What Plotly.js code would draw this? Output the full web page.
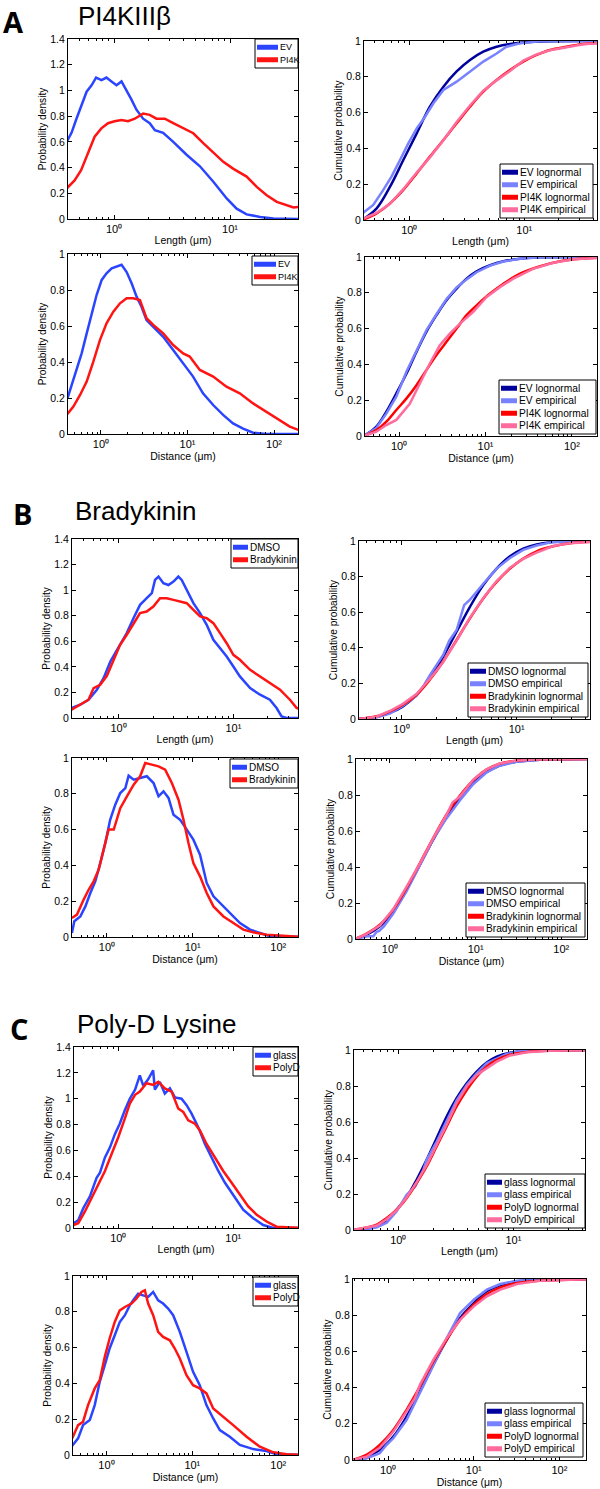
<!DOCTYPE html>
<html><head><meta charset="utf-8">
<script src="https://cdn.plot.ly/plotly-3.0.1.min.js"></script>
<style>html,body{margin:0;padding:0;background:#fff}</style>
</head><body><div id="chart" style="width:600px;height:1489px"></div>
<script>
// ---------- tick labels ----------
const decadeVals = [1, 10, 100];
const decadeText = ['10⁰', '10¹', '10²'];
const panelLetters = ['A', 'B', 'C'];
const panelTitles = ['PI4KIIIβ', 'Bradykinin', 'Poly-D Lysine'];

// ---------- A: PI4KIIIβ ----------
const aLenEvX = [0.39,0.43,0.47,0.52,0.58,0.64,0.70,0.78,0.86,0.95,1.05,1.16,1.28,1.41,1.56,1.78,2.03,2.25,2.65,3.24,4.22,5.5,7.18,9.36,11.4,13.9,18.2,23.7,40];
const aLenEvY = [0.60,0.67,0.77,0.875,0.99,1.04,1.10,1.08,1.10,1.07,1.04,1.07,1.005,0.93,0.85,0.78,0.745,0.69,0.67,0.60,0.50,0.41,0.29,0.16,0.08,0.036,0.016,0.003,0];
const aLenPiX = [0.39,0.457,0.52,0.596,0.68,0.777,0.887,1.01,1.16,1.32,1.51,1.78,2.03,2.32,2.74,3.24,3.95,4.82,5.88,7.18,8.75,10.7,13.9,17,20.7,25.3,30.9,35.3,40];
const aLenPiY = [0.237,0.30,0.38,0.51,0.64,0.705,0.745,0.76,0.77,0.76,0.78,0.82,0.81,0.78,0.78,0.745,0.705,0.667,0.59,0.52,0.445,0.39,0.33,0.25,0.185,0.133,0.107,0.09,0.094];

const aLenCdfEvLnX = [0.39,0.52,0.68,0.887,1.16,1.51,1.98,2.58,3.37,4.4,5.74,7.5,12,50];
const aLenCdfEvLnY = [0,0.065,0.186,0.335,0.484,0.633,0.745,0.83,0.894,0.94,0.968,0.983,0.996,1];
const aLenCdfEvEmX = [0.39,0.486,0.594,0.70,0.83,0.98,1.16,1.37,1.62,1.98,2.58,3.37,4.4,5.74,7.0,9.17,13.7,50];
const aLenCdfEvEmY = [0.037,0.084,0.168,0.242,0.335,0.428,0.512,0.577,0.652,0.726,0.773,0.83,0.885,0.93,0.968,0.987,0.998,1];
const aLenCdfPiLnX = [0.39,0.52,0.68,0.887,1.16,1.51,1.98,2.58,3.37,4.4,5.74,7.5,9.8,12.8,16.7,23.3,32.6,50];
const aLenCdfPiLnY = [0,0.037,0.093,0.168,0.26,0.354,0.447,0.54,0.633,0.717,0.782,0.838,0.885,0.922,0.95,0.968,0.983,0.992];
const aLenCdfPiEmX = [0.39,0.52,0.68,0.887,1.16,1.51,1.98,2.58,3.37,4.4,5.74,7.5,9.8,12.8,16.7,23.3,32.6,50];
const aLenCdfPiEmY = [0.005,0.04,0.09,0.172,0.265,0.35,0.445,0.548,0.64,0.722,0.78,0.832,0.89,0.925,0.948,0.966,0.982,0.99];

const aDisEvX = [0.41,0.459,0.524,0.598,0.684,0.78,0.89,1.02,1.16,1.33,1.52,1.73,1.98,2.26,2.58,2.94,3.36,4.02,5.24,6.83,8.9,11.6,15.1,19.8,25.8,33.6,43.9,57.3,81.6,200];
const aDisEvY = [0.198,0.272,0.356,0.448,0.559,0.67,0.772,0.856,0.893,0.92,0.93,0.94,0.90,0.837,0.763,0.707,0.633,0.596,0.54,0.467,0.393,0.319,0.226,0.161,0.106,0.059,0.03,0.007,0,0];
const aDisPiX = [0.41,0.48,0.573,0.684,0.816,0.973,1.16,1.39,1.66,1.98,2.36,2.82,3.36,4.02,5.24,6.83,8.9,10.6,13.9,19.8,28.2,40.2,57.3,81.6,116,152,200];
const aDisPiY = [0.111,0.152,0.217,0.291,0.402,0.522,0.615,0.68,0.726,0.754,0.754,0.744,0.643,0.606,0.559,0.494,0.448,0.43,0.356,0.319,0.263,0.226,0.17,0.124,0.078,0.041,0.019];

const aDisCdfEvLnX = [0.39,0.546,0.713,0.93,1.22,1.59,2.07,2.71,3.54,4.63,6.04,7.9,11.3,16.1,25.1,42.9,250];
const aDisCdfEvLnY = [0,0.052,0.136,0.238,0.349,0.47,0.582,0.675,0.758,0.823,0.879,0.92,0.954,0.976,0.99,0.998,1];
const aDisCdfEvEmX = [0.39,0.546,0.713,0.93,1.22,1.59,2.07,2.71,3.54,4.63,6.04,7.9,11.3,16.1,25.1,42.9,250];
const aDisCdfEvEmY = [0,0.045,0.125,0.22,0.36,0.48,0.59,0.68,0.765,0.83,0.875,0.915,0.952,0.975,0.99,0.998,1];
const aDisCdfPiLnX = [0.39,0.546,0.713,0.93,1.22,1.59,2.07,2.71,3.54,4.63,6.04,7.9,11.3,16.1,25.1,42.9,73,125,250];
const aDisCdfPiLnY = [0,0.033,0.08,0.145,0.21,0.284,0.368,0.452,0.526,0.60,0.675,0.73,0.796,0.851,0.907,0.948,0.976,0.99,0.997];
const aDisCdfPiEmX = [0.39,0.546,0.713,0.93,1.33,1.74,2.27,2.96,3.87,5.06,7.22,10.3,14.8,21,35.9,61.2,104,250];
const aDisCdfPiEmY = [0,0.024,0.061,0.09,0.18,0.294,0.405,0.507,0.572,0.628,0.693,0.777,0.833,0.879,0.935,0.968,0.987,0.997];

// ---------- B: Bradykinin ----------
const bLenDmX = [0.39,0.464,0.548,0.648,0.741,0.847,0.935,1.03,1.18,1.35,1.54,1.76,1.95,2.08,2.23,2.46,2.72,3.01,3.32,3.55,3.93,4.49,5.13,5.86,6.7,7.66,8.75,10,11.4,14,17.1,20.8,23.8,26.3,29.1,40];
const bLenDmY = [0.078,0.104,0.143,0.221,0.312,0.44,0.507,0.572,0.664,0.78,0.885,0.937,0.976,1.08,1.106,1.054,1.04,1.067,1.106,1.08,1.0,0.898,0.82,0.729,0.611,0.546,0.481,0.403,0.325,0.234,0.182,0.143,0.078,0.013,0,0];
const bLenBrX = [0.39,0.464,0.548,0.607,0.693,0.792,0.905,1.03,1.18,1.35,1.54,1.76,2.01,2.3,2.63,3.01,3.44,3.93,4.49,5.13,5.86,6.7,7.66,8.75,10,11.4,14,17.1,20.8,25.5,31.1,35.6,40];
const bLenBrY = [0.065,0.104,0.143,0.234,0.26,0.33,0.45,0.57,0.651,0.742,0.82,0.833,0.872,0.937,0.937,0.924,0.911,0.898,0.846,0.794,0.781,0.742,0.664,0.585,0.494,0.455,0.377,0.325,0.273,0.221,0.143,0.078,0.073];

const bLenCdfDmLnX = [0.42,0.607,0.792,1.03,1.35,1.76,2.3,3.01,3.93,5.13,6.7,8.75,11.4,14.9,20.8,50];
const bLenCdfDmLnY = [0,0.011,0.034,0.071,0.136,0.23,0.35,0.49,0.63,0.752,0.845,0.914,0.957,0.981,0.994,1];
const bLenCdfDmEmX = [0.42,0.607,0.792,1.03,1.35,1.55,1.76,2.3,2.6,3.01,3.5,3.93,5.13,6.7,8.75,11.4,14.9,20.8,50];
const bLenCdfDmEmY = [0,0.01,0.03,0.075,0.13,0.185,0.245,0.36,0.44,0.5,0.64,0.67,0.76,0.845,0.905,0.95,0.975,0.995,1];
const bLenCdfBrLnX = [0.42,0.607,0.792,1.03,1.35,1.76,2.3,3.01,3.93,5.13,6.7,8.75,11.4,14.9,20.8,29.1,50];
const bLenCdfBrLnY = [0,0.015,0.043,0.08,0.136,0.22,0.323,0.444,0.565,0.677,0.77,0.845,0.901,0.942,0.97,0.987,0.997];
const bLenCdfBrEmX = [0.42,0.607,0.792,1.03,1.35,1.76,2.3,3.01,3.93,5.13,6.7,8.75,11.4,14.9,20.8,29.1,50];
const bLenCdfBrEmY = [0,0.013,0.045,0.085,0.14,0.225,0.32,0.44,0.57,0.68,0.775,0.85,0.9,0.935,0.972,0.988,0.997];

const bDisDmX = [0.39,0.416,0.489,0.56,0.64,0.731,0.836,0.957,1.09,1.25,1.43,1.64,1.79,2.05,2.44,2.92,3.5,4.0,4.57,5.23,5.98,7.15,8.55,10.2,12.2,14.6,17.5,20.9,27.3,35.7,46.8,61.1,80,200];
const bDisDmY = [0.022,0.088,0.115,0.171,0.246,0.311,0.413,0.525,0.655,0.739,0.804,0.832,0.901,0.879,0.888,0.898,0.86,0.786,0.814,0.777,0.683,0.655,0.6,0.544,0.46,0.302,0.227,0.19,0.134,0.078,0.041,0.022,0.004,0];
const bDisBrX = [0.39,0.447,0.535,0.611,0.70,0.80,0.914,1.045,1.2,1.43,1.71,2.05,2.44,2.8,3.34,4.0,4.78,5.72,6.84,7.82,8.94,10.2,12.2,14.6,17.5,22.9,29.9,39.1,51.1,73.1,114,200];
const bDisBrY = [0.106,0.125,0.209,0.264,0.311,0.376,0.488,0.6,0.6,0.72,0.786,0.851,0.898,0.972,0.963,0.953,0.935,0.86,0.767,0.655,0.525,0.413,0.339,0.246,0.171,0.115,0.078,0.041,0.026,0.013,0.007,0];

const bDisCdfDmLnX = [0.39,0.535,0.764,1.09,1.56,2.24,3.2,4.57,6.54,9.36,13.4,19.1,29.9,56,250];
const bDisCdfDmLnY = [0,0.024,0.07,0.154,0.274,0.413,0.552,0.678,0.783,0.867,0.926,0.963,0.985,0.996,1];
const bDisCdfDmEmX = [0.39,0.55,0.64,0.70,0.75,0.85,1.09,1.56,2.24,3.2,4.57,6.54,9.36,13.4,19.1,29.9,56,250];
const bDisCdfDmEmY = [0,0.015,0.015,0.04,0.045,0.07,0.14,0.265,0.41,0.555,0.67,0.77,0.86,0.925,0.963,0.985,0.996,1];
const bDisCdfBrLnX = [0.39,0.535,0.764,1.09,1.56,2.24,3.2,4.57,6.54,9.36,13.4,19.1,29.9,56,250];
const bDisCdfBrLnY = [0,0.03,0.08,0.163,0.283,0.422,0.561,0.691,0.796,0.881,0.941,0.974,0.991,0.998,1];
const bDisCdfBrEmX = [0.39,0.535,0.764,1.09,1.56,2.24,3.2,4.57,5.4,6.54,9.36,13.4,19.1,29.9,56,250];
const bDisCdfBrEmY = [0,0.028,0.075,0.165,0.29,0.42,0.56,0.69,0.76,0.79,0.885,0.942,0.975,0.991,0.998,1];

// ---------- C: Poly-D Lysine ----------
const cLenGlX = [0.40,0.449,0.497,0.567,0.648,0.693,0.766,0.847,0.936,1.03,1.14,1.26,1.4,1.54,1.65,1.82,2.01,2.08,2.3,2.54,2.81,3.11,3.55,3.93,4.34,4.96,5.67,6.48,7.41,8.47,10,12.2,14.9,18.2,22.3,40];
const cLenGlY = [0.03,0.06,0.154,0.245,0.389,0.428,0.546,0.624,0.728,0.807,0.911,1.0,1.07,1.18,1.1,1.15,1.22,1.07,1.13,1.04,1.08,1.01,1.0,0.95,0.885,0.78,0.65,0.546,0.441,0.35,0.258,0.141,0.076,0.023,0,0];
const cLenPdX = [0.40,0.449,0.513,0.586,0.67,0.766,0.875,1.0,1.14,1.26,1.4,1.54,1.76,2.01,2.23,2.54,2.91,3.32,3.67,4.06,4.64,5.13,5.86,6.93,8.18,9.68,11.4,13.5,16,19.5,23.8,40];
const cLenPdY = [0.02,0.037,0.128,0.232,0.337,0.441,0.572,0.702,0.846,0.963,1.03,1.055,1.12,1.107,1.13,1.08,1.055,0.924,0.898,0.833,0.807,0.755,0.65,0.546,0.441,0.35,0.258,0.167,0.102,0.05,0.01,0];

const cLenCdfGlLnX = [0.40,0.648,0.792,0.967,1.18,1.44,1.76,2.15,2.63,3.21,3.93,4.8,5.86,7.16,9.36,13.1,50];
const cLenCdfGlLnY = [0,0.02,0.057,0.113,0.183,0.279,0.39,0.51,0.63,0.732,0.815,0.88,0.93,0.963,0.985,0.996,1];
const cLenCdfGlEmX = [0.5,0.648,0.792,0.967,1.18,1.40,1.65,1.76,2.15,2.63,3.21,3.93,4.8,5.86,7.16,8.75,11.4,50];
const cLenCdfGlEmY = [0,0.015,0.04,0.104,0.196,0.242,0.335,0.39,0.49,0.61,0.72,0.806,0.87,0.926,0.954,0.978,0.994,1];
const cLenCdfPdLnX = [0.40,0.648,0.792,0.967,1.18,1.44,1.76,2.15,2.63,3.21,3.93,4.8,5.86,7.16,9.36,13.1,20.8,50];
const cLenCdfPdLnY = [0,0.03,0.067,0.113,0.177,0.26,0.353,0.464,0.575,0.686,0.778,0.852,0.908,0.945,0.974,0.989,0.996,1];
const cLenCdfPdEmX = [0.40,0.648,0.792,0.967,1.18,1.44,1.76,2.15,2.63,3.21,3.93,4.8,5.86,7.16,9.36,13.1,20.8,50];
const cLenCdfPdEmY = [0,0.025,0.06,0.11,0.18,0.265,0.36,0.47,0.585,0.705,0.797,0.861,0.898,0.935,0.97,0.988,0.996,1];

const cDisGlX = [0.40,0.468,0.535,0.64,0.731,0.836,0.957,1.09,1.25,1.43,1.64,1.87,2.05,2.34,2.67,3.06,3.5,4.0,4.57,5.23,5.98,7.15,8.55,10.2,12.2,14.6,17.5,20.9,27.3,35.7,51.1,73.1,95.6,150,200];
const cDisGlY = [0.052,0.093,0.167,0.195,0.279,0.409,0.502,0.595,0.669,0.743,0.781,0.836,0.864,0.901,0.892,0.883,0.911,0.864,0.846,0.818,0.781,0.688,0.576,0.465,0.39,0.279,0.204,0.139,0.102,0.056,0.033,0.022,0.004,0.004,0];
const cDisPdX = [0.40,0.468,0.535,0.611,0.731,0.836,0.957,1.09,1.25,1.43,1.64,1.96,2.24,2.56,2.8,3.06,3.5,4.0,4.57,5.47,6.25,7.15,8.55,10.2,12.2,14.6,17.5,21.9,29.9,42.8,61.1,87.5,125,200];
const cDisPdY = [0.093,0.167,0.186,0.279,0.372,0.418,0.548,0.651,0.743,0.808,0.827,0.846,0.874,0.911,0.92,0.846,0.781,0.688,0.66,0.641,0.595,0.539,0.446,0.39,0.372,0.344,0.26,0.223,0.167,0.102,0.046,0.015,0.004,0];

const cDisCdfGlLnX = [0.38,0.557,0.798,1.15,1.64,2.35,3.37,4.83,6.92,10,14.2,20.4,31.9,59.9,250];
const cDisCdfGlLnY = [0,0.018,0.055,0.129,0.24,0.378,0.526,0.664,0.784,0.867,0.932,0.965,0.987,0.996,1];
const cDisCdfGlEmX = [0.5,0.557,0.798,0.955,1.15,1.64,2.35,3.37,4.83,6.92,10,14.2,20.4,31.9,250];
const cDisCdfGlEmY = [0,0.009,0.037,0.083,0.12,0.221,0.369,0.526,0.673,0.812,0.886,0.941,0.972,0.991,1];
const cDisCdfPdLnX = [0.38,0.557,0.798,1.15,1.64,2.35,3.37,4.83,6.92,10,14.2,20.4,31.9,59.9,122,250];
const cDisCdfPdLnY = [0,0.028,0.083,0.166,0.277,0.406,0.544,0.664,0.775,0.858,0.917,0.954,0.978,0.991,0.996,1];
const cDisCdfPdEmX = [0.38,0.557,0.798,1.15,1.64,2.05,2.35,3.37,4.83,6.92,10,14.2,20.4,31.9,59.9,250];
const cDisCdfPdEmY = [0,0.018,0.068,0.157,0.268,0.341,0.415,0.553,0.673,0.775,0.849,0.904,0.941,0.972,0.991,1];

// ---------- styling ----------
const W = 600, H = 1489;
const FONT = 'Liberation Sans, Arial, Helvetica, sans-serif';
const C_BLUE = '#2b45ff', C_RED = '#ff1414', C_DARK = '#00009c', C_LIGHT = '#7882ff', C_RLN = '#ff0000', C_PINK = '#ff6b9d';
const LW = 2.5;
const LEG_LINE = 12.5, LEG_PAD = 2;

const minorVals = [];
[0.1, 1, 10, 100].forEach(d => { for (let k = 2; k <= 9; k++) minorVals.push(k * d); });

// leg: [left px, right px, edge y px, 'top'|'bottom', swatch width px, font size]
const panels = [
  {px:[68,298], py:[39,219], xr:[-0.397,1.586], ymax:1.4, xt:'Length (μm)', yt:'Probability density', leg:[255,298,39,'top',21,9],
   s:[[aLenEvX,aLenEvY,'EV',C_BLUE],[aLenPiX,aLenPiY,'PI4K',C_RED]]},
  {px:[364,597], py:[41,220], xr:[-0.394,1.632], ymax:1, xt:'Length (μm)', yt:'Cumulative probability', leg:[500,593,218,'bottom',16,10.2],
   s:[[aLenCdfEvLnX,aLenCdfEvLnY,'EV lognormal',C_DARK,1],[aLenCdfEvEmX,aLenCdfEvEmY,'EV empirical',C_LIGHT],
      [aLenCdfPiLnX,aLenCdfPiLnY,'PI4K lognormal',C_RLN,1],[aLenCdfPiEmX,aLenCdfPiEmY,'PI4K empirical',C_PINK]]},
  {px:[68,298], py:[254,434], xr:[-0.381,2.277], ymax:1, xt:'Distance (μm)', yt:'Probability density', leg:[252,298,256,'top',22,9],
   s:[[aDisEvX,aDisEvY,'EV',C_BLUE],[aDisPiX,aDisPiY,'PI4K',C_RED]]},
  {px:[365,597], py:[257,436], xr:[-0.394,2.29], ymax:1, xt:'Distance (μm)', yt:'Cumulative probability', leg:[499,596,434,'bottom',16,10.2],
   s:[[aDisCdfEvLnX,aDisCdfEvLnY,'EV lognormal',C_DARK,1],[aDisCdfEvEmX,aDisCdfEvEmY,'EV empirical',C_LIGHT],
      [aDisCdfPiLnX,aDisCdfPiLnY,'PI4K lognormal',C_RLN,1],[aDisCdfPiEmX,aDisCdfPiEmY,'PI4K empirical',C_PINK]]},
  {px:[72,298], py:[539,718], xr:[-0.405,1.563], ymax:1.4, xt:'Length (μm)', yt:'Probability density', leg:[231,298,539,'top',15,10],
   s:[[bLenDmX,bLenDmY,'DMSO',C_BLUE],[bLenBrX,bLenBrY,'Bradykinin',C_RED]]},
  {px:[359,590], py:[541,719], xr:[-0.369,1.637], ymax:1, xt:'Length (μm)', yt:'Cumulative probability', leg:[468,588,717,'bottom',16,10.2],
   s:[[bLenCdfDmLnX,bLenCdfDmLnY,'DMSO lognormal',C_DARK,1],[bLenCdfDmEmX,bLenCdfDmEmY,'DMSO empirical',C_LIGHT],
      [bLenCdfBrLnX,bLenCdfBrLnY,'Bradykinin lognormal',C_RLN,1],[bLenCdfBrEmX,bLenCdfBrEmY,'Bradykinin empirical',C_PINK]]},
  {px:[72,298], py:[758,937], xr:[-0.408,2.23], ymax:1, xt:'Distance (μm)', yt:'Probability density', leg:[230,298,759,'top',15,10],
   s:[[bDisDmX,bDisDmY,'DMSO',C_BLUE],[bDisBrX,bDisBrY,'Bradykinin',C_RED]]},
  {px:[356,587], py:[759,939], xr:[-0.396,2.3], ymax:1, xt:'Distance (μm)', yt:'Cumulative probability', leg:[466,585,937,'bottom',16,10.2],
   s:[[bDisCdfDmLnX,bDisCdfDmLnY,'DMSO lognormal',C_DARK,1],[bDisCdfDmEmX,bDisCdfDmEmY,'DMSO empirical',C_LIGHT],
      [bDisCdfBrLnX,bDisCdfBrLnY,'Bradykinin lognormal',C_RLN,1],[bDisCdfBrEmX,bDisCdfBrEmY,'Bradykinin empirical',C_PINK]]},
  {px:[74,298], py:[1047,1228], xr:[-0.385,1.563], ymax:1.4, xt:'Length (μm)', yt:'Probability density', leg:[253,298,1047,'top',16,10],
   s:[[cLenGlX,cLenGlY,'glass',C_BLUE],[cLenPdX,cLenPdY,'PolyD',C_RED]]},
  {px:[354,585], py:[1050,1230], xr:[-0.386,1.623], ymax:1, xt:'Length (μm)', yt:'Cumulative probability', leg:[485,585,1228,'bottom',15,10.2],
   s:[[cLenCdfGlLnX,cLenCdfGlLnY,'glass lognormal',C_DARK,1],[cLenCdfGlEmX,cLenCdfGlEmY,'glass empirical',C_LIGHT],
      [cLenCdfPdLnX,cLenCdfPdLnY,'PolyD lognormal',C_RLN,1],[cLenCdfPdEmX,cLenCdfPdEmY,'PolyD empirical',C_PINK]]},
  {px:[73,298], py:[1276,1455], xr:[-0.389,2.23], ymax:1, xt:'Distance (μm)', yt:'Probability density', leg:[253,298,1277,'top',16,10],
   s:[[cDisGlX,cDisGlY,'glass',C_BLUE],[cDisPdX,cDisPdY,'PolyD',C_RED]]},
  {px:[353,586], py:[1279,1460], xr:[-0.41,2.31], ymax:1, xt:'Distance (μm)', yt:'Cumulative probability', leg:[485,583,1457,'bottom',15,10.2],
   s:[[cDisCdfGlLnX,cDisCdfGlLnY,'glass lognormal',C_DARK,1],[cDisCdfGlEmX,cDisCdfGlEmY,'glass empirical',C_LIGHT],
      [cDisCdfPdLnX,cDisCdfPdLnY,'PolyD lognormal',C_RLN,1],[cDisCdfPdEmX,cDisCdfPdEmY,'PolyD empirical',C_PINK]]}
];

const data = [];
const layout = {
  width: W, height: H,
  margin: {l:0, r:0, t:0, b:0},
  paper_bgcolor: '#fff', plot_bgcolor: '#fff',
  font: {family: FONT, size: 10.5, color: '#000'},
  showlegend: false,
  annotations: [],
  shapes: []
};

panels.forEach((p, i) => {
  const n = i + 1;
  const sfx = n === 1 ? '' : String(n);
  const xa = 'xaxis' + sfx, ya = 'yaxis' + sfx;
  layout[xa] = {
    domain: [p.px[0] / W, p.px[1] / W], anchor: 'y' + sfx, type: 'log', range: p.xr,
    tickmode: 'array', tickvals: decadeVals, ticktext: decadeText,
    ticks: 'inside', ticklen: 4, tickwidth: 1, tickcolor: '#000',
    showline: true, linecolor: '#000', linewidth: 1, mirror: 'ticks',
    showgrid: false, zeroline: false, automargin: false,
    tickfont: {family: FONT, size: 11, color: '#000'},
    minor: {tickmode: 'array', tickvals: minorVals, ticks: 'inside', ticklen: 2, tickcolor: '#000', showgrid: false},
    title: {text: p.xt, font: {family: FONT, size: 10.5, color: '#000'}, standoff: 2}
  };
  layout[ya] = {
    domain: [1 - p.py[1] / H, 1 - p.py[0] / H], anchor: 'x' + sfx, range: [0, p.ymax],
    tick0: 0, dtick: 0.2,
    ticks: 'inside', ticklen: 4, tickwidth: 1, tickcolor: '#000',
    showline: true, linecolor: '#000', linewidth: 1, mirror: 'ticks',
    showgrid: false, zeroline: false, automargin: false,
    tickfont: {family: FONT, size: 10.5, color: '#000'},
    title: {text: p.yt, font: {family: FONT, size: 10.2, color: '#000'}, standoff: 1}
  };
  p.s.forEach(s => {
    data.push({
      type: 'scatter', mode: 'lines', x: s[0], y: s[1], name: s[2],
      xaxis: 'x' + sfx, yaxis: 'y' + sfx, showlegend: false,
      line: {color: s[3], width: LW, shape: s[4] ? 'spline' : 'linear', smoothing: 1},
      hoverinfo: 'skip'
    });
  });
  // legend box built from the same series names/colours
  const [lx, rx, ey, side, sw, fs] = p.leg;
  const nItems = p.s.length;
  const hBox = nItems * LEG_LINE + 2 * LEG_PAD;
  const top = side === 'top' ? ey : ey - hBox;
  layout.shapes.push({
    type: 'rect', xref: 'paper', yref: 'paper', layer: 'above',
    x0: lx / W, x1: rx / W, y0: 1 - (top + hBox) / H, y1: 1 - top / H,
    fillcolor: '#fff', line: {color: '#000', width: 1}
  });
  p.s.forEach((s, k) => {
    const yc = top + LEG_PAD + LEG_LINE * (k + 0.5);
    layout.shapes.push({
      type: 'line', xref: 'paper', yref: 'paper', layer: 'above',
      x0: (lx + 2) / W, x1: (lx + 2 + sw) / W, y0: 1 - yc / H, y1: 1 - yc / H,
      line: {color: s[3], width: 5}
    });
    layout.annotations.push({
      text: s[2], xref: 'paper', yref: 'paper', x: (lx + 2 + sw) / W, y: 1 - yc / H,
      xanchor: 'left', yanchor: 'middle', showarrow: false,
      font: {family: FONT, size: fs, color: '#000'}
    });
  });
});

// panel letters and titles
const letterPos = [[1, 22], [11, 513], [8, 1028]];
const titlePos = [[76, 16], [73, 511], [75, 1024]];
panelLetters.forEach((t, i) => {
  layout.annotations.push({
    text: t, xref: 'paper', yref: 'paper', x: letterPos[i][0] / W, y: 1 - letterPos[i][1] / H,
    xanchor: 'left', yanchor: 'middle', showarrow: false,
    font: {family: 'Open Sans, DejaVu Sans, sans-serif', size: 29, weight: 700, color: '#000'}
  });
  layout.annotations.push({
    text: panelTitles[i], xref: 'paper', yref: 'paper', x: titlePos[i][0] / W, y: 1 - titlePos[i][1] / H,
    xanchor: 'left', yanchor: 'middle', showarrow: false,
    font: {family: FONT, size: 26, color: '#000'}
  });
});

Plotly.newPlot('chart', data, layout, {displayModeBar: false, staticPlot: true});
</script></body></html>
